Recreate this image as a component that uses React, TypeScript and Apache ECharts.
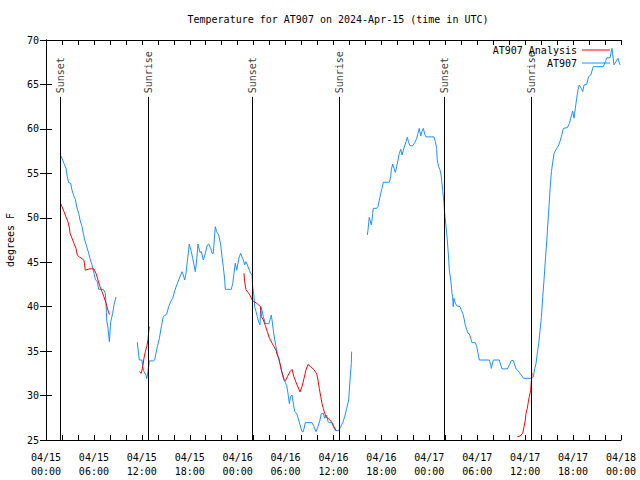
import React, { useEffect, useRef } from "react";
import * as echarts from "echarts";

// ---- data (hours since 04/15 00:00 UTC, degrees F) ----
const at907Hours = [
  1.84, 2.0, 2.25, 2.5, 2.67, 2.84, 3.09, 3.26, 3.51, 3.67, 3.84, 4.09, 4.26, 4.51, 4.67, 4.85, 5.1, 5.35, 5.51, 5.76,
  6.01, 6.17, 6.42, 6.6, 7.18, 7.43, 7.51, 7.6, 7.76, 7.93, 8.1, 8.35, 8.51, 8.77,
  10.0,
  11.43, 11.68, 12.02, 12.11, 12.27, 12.52, 12.61, 12.77, 12.94, 13.44, 13.61, 13.77, 13.94, 14.19, 14.44, 14.69, 15.11,
  15.36, 15.61, 15.87, 16.12, 16.37, 16.62, 16.87, 17.03, 17.19, 17.37, 17.53, 17.69, 17.87, 17.94, 18.19, 18.37, 18.53,
  18.7, 18.87, 19.03, 19.28, 19.45, 19.7, 19.95, 20.2, 20.37, 20.62, 20.79, 20.95, 21.12, 21.2, 21.37, 21.63, 21.88,
  22.04, 22.2, 22.38, 22.45, 23.2, 23.38, 23.54, 23.7, 23.88, 24.04, 24.2, 24.38, 24.54, 24.71, 24.88, 25.04, 25.21,
  25.46, 25.63, 25.8, 25.88, 26.05, 26.13, 26.3, 26.46, 26.63, 26.8, 26.88, 27.05, 27.21, 27.46, 27.89, 28.14, 28.21,
  28.3, 28.46, 28.64, 28.8, 28.96, 29.14, 29.3, 29.46, 29.64, 29.8, 29.97, 30.14, 30.3, 30.47, 30.64, 30.8, 30.97,
  31.14, 31.39, 31.64, 31.81, 32.06, 32.22, 32.47, 33.31, 33.56, 33.81, 34.06, 34.31, 34.47, 34.72, 34.9, 35.15, 35.31,
  35.48, 35.81, 35.98, 36.23, 36.65, 36.9, 37.15, 37.4, 37.65, 37.9, 38.07, 38.23, 38.27,
  39.0,
  40.23, 40.32, 40.41, 40.48, 40.66, 40.73, 40.82, 40.91, 40.98, 41.41, 41.57, 41.74, 41.91, 42.07, 42.24, 42.99, 43.16,
  43.24, 43.41, 43.58, 43.74, 43.91, 44.08, 44.24, 44.42, 44.58, 44.74, 44.92, 45.08, 45.24, 45.42, 45.58, 45.92, 46.17,
  46.42, 46.58, 46.74, 46.92, 47.08, 47.25, 47.42, 47.58, 48.59, 48.75, 48.92, 48.99, 49.17, 49.34, 49.5, 49.67, 49.84,
  49.92, 50.09, 50.25, 50.34, 50.43, 50.5, 50.68, 50.75, 50.84, 50.92, 50.99, 51.08, 51.25, 51.42, 51.84, 52.0, 52.18,
  52.34, 52.5, 52.68, 52.84, 53.01, 53.18, 53.34, 53.76, 53.93, 54.1, 54.26, 55.51, 55.69, 55.76, 56.01, 56.76, 56.94,
  57.1, 57.77, 58.02, 58.27, 58.52, 58.69, 58.85, 59.1, 59.35, 59.6, 59.77, 60.86, 61.02, 61.2, 61.36, 61.52, 61.7,
  61.86, 62.03, 62.2, 62.36, 62.53, 62.71, 62.87, 63.04, 63.12, 63.29, 63.46, 63.62, 63.95, 64.2, 64.36, 64.53, 64.78,
  65.28, 65.53, 65.7, 65.95, 66.12, 66.28, 66.45, 66.62, 66.78, 67.03, 67.21, 67.37, 67.7, 67.95, 68.21, 68.53, 69.78,
  70.04, 70.21, 70.63, 70.87, 71.12, 71.37, 71.62, 71.87,
];
const at907Temps = [
  57.0, 56.7, 56.1, 55.6, 54.6, 53.95, 53.9, 53.1, 52.4, 52.1, 51.25, 50.5, 49.75, 49.0, 48.25, 47.5, 46.75, 46.0, 45.4, 44.7,
  43.75, 43.1, 42.8, 41.95, 41.95, 41.5, 40.4, 38.5, 37.6, 36.06, 38.3, 39.25, 40.2, 41.1,
  null,
  36.0, 34.0, 34.0, 33.25, 32.7, 32.3, 31.9, 32.7, 33.9, 33.9, 34.0, 34.75, 35.5, 36.4, 37.75, 38.9, 39.15,
  40.0, 40.56, 40.94, 41.8, 42.44, 43.0, 43.56, 43.94, 43.56, 43.0, 43.75, 45.06, 46.4, 47.05, 46.2, 45.44, 44.7,
  43.94, 45.25, 47.05, 46.1, 46.2, 45.25, 46.0, 46.94, 47.05, 46.56, 46.0, 46.0, 48.06, 49.0, 48.44, 48.06, 46.94,
  45.6, 44.5, 43.0, 41.95, 41.95, 42.6, 43.75, 44.9, 44.1, 44.9, 45.6, 46.0, 45.6, 45.25, 44.7, 45.06, 44.7,
  44.1, 43.75, 43.56, 42.25, 41.1, 40.0, 39.44, 38.9, 38.3, 37.94, 40.0, 39.6, 38.9, 38.1, 38.06, 38.8, 39.06,
  38.5, 37.4, 36.25, 35.5, 34.75, 34.2, 33.6, 32.9, 32.3, 31.75, 31.45, 31.1, 30.25, 29.1, 29.9, 30.06, 29.1,
  28.2, 28.0, 27.25, 26.7, 25.94, 25.94, 26.95, 26.95, 26.5, 25.94, 26.5, 27.25, 28.0, 28.0, 27.44, 27.8, 27.06,
  26.95, 26.95, 26.5, 26.06, 26.06, 26.5, 26.95, 27.6, 28.56, 29.5, 31.75, 33.6, 34.94,
  null,
  48.06, 48.6, 49.45, 50.06, 49.4, 49.2, 49.75, 50.5, 51.06, 51.06, 51.25, 52.0, 52.75, 53.3, 54.0, 54.0, 54.6,
  55.4, 56.05, 55.56, 55.1, 55.75, 56.5, 57.25, 57.7, 57.06, 57.6, 58.1, 58.56, 59.06, 58.45, 58.1, 58.1, 58.45,
  58.94, 59.5, 60.06, 59.2, 59.7, 60.06, 59.4, 59.1, 59.1, 58.56, 57.8, 56.5, 55.75, 55.4, 54.6, 53.1, 51.6,
  50.5, 49.0, 47.5, 46.4, 45.25, 44.1, 43.0, 42.44, 41.5, 41.1, 40.0, 40.94, 40.4, 40.1, 40.0, 39.6, 39.25,
  38.7, 37.94, 37.4, 37.0, 36.94, 36.44, 35.95, 35.95, 35.5, 34.75, 34.0, 34.0, 33.44, 33.06, 34.0, 34.0, 33.44,
  33.0, 33.0, 33.44, 33.94, 33.94, 33.44, 33.0, 32.8, 32.5, 32.2, 31.94, 31.94, 32.1, 33.06, 33.6, 34.75, 35.9,
  37.3, 38.8, 41.1, 43.0, 45.25, 47.5, 49.75, 52.0, 53.3, 55.2, 56.3, 57.25, 57.8, 58.2, 58.6, 59.1, 60.06,
  60.14, 60.6, 61.2, 62.0, 61.2, 62.3, 63.44, 64.4, 64.94, 64.56, 64.2, 64.94, 65.0, 65.9, 66.06, 67.0, 67.0,
  67.56, 68.0, 68.0, 69.06, 67.2, 67.56, 67.94, 67.2,
];

const analysisHours = [
  1.84, 2.0, 2.25, 2.5, 2.75, 2.92, 3.01, 3.26, 3.51, 3.76, 3.92, 4.17, 4.51, 4.76, 4.92, 5.42, 6.01, 6.26, 6.51, 6.76,
  7.01, 7.26, 7.51, 7.76, 7.93,
  9.0,
  11.68, 11.93, 12.11, 12.27, 12.44, 12.61, 12.77, 12.86, 12.94,
  18.0,
  24.79, 24.88, 25.04, 25.3, 25.55, 25.8, 26.05, 26.38, 26.71, 26.88, 26.96, 27.21, 27.46, 27.71, 27.96, 28.3, 28.55,
  28.8, 28.96, 29.14, 29.3, 29.46, 29.64, 29.8, 29.97, 30.21, 30.55, 30.8, 31.05, 31.39, 31.81, 32.06, 32.31, 32.56,
  32.81, 33.15, 33.56, 33.9, 34.06, 34.22, 34.4, 34.56, 34.72, 34.9, 35.06, 35.31, 35.56, 35.81, 36.06, 36.31,
  45.0,
  59.02, 59.35, 59.69, 59.86, 60.02, 60.11, 60.27, 60.36, 60.52, 60.69, 60.77, 60.86,
];
const analysisTemps = [
  51.6, 51.25, 50.7, 50.1, 49.55, 48.9, 48.25, 47.7, 47.1, 46.55, 45.8, 45.6, 45.4, 45.2, 44.1, 44.25, 44.25, 43.75, 43.0, 42.25,
  41.7, 41.1, 40.4, 39.6, 39.1,
  null,
  32.7, 32.5, 33.25, 34.2, 34.94, 35.5, 36.25, 37.2, 37.75,
  null,
  43.75, 42.8, 41.9, 41.6, 41.3, 40.75, 40.56, 40.4, 40.1, 40.0, 38.9, 38.5, 37.9, 37.2, 36.5, 35.9, 35.5,
  35.1, 34.56, 34.2, 33.6, 32.9, 32.3, 31.8, 31.66, 32.1, 32.7, 32.94, 32.1, 31.3, 30.4, 31.0, 31.94, 32.9,
  33.5, 33.25, 32.9, 32.44, 31.75, 30.8, 29.9, 29.1, 28.56, 28.0, 27.6, 27.44, 27.25, 26.95, 26.5, 26.1,
  null,
  25.37, 25.45, 25.75, 26.5, 27.25, 28.0, 28.56, 29.1, 29.9, 30.6, 31.56, 32.5,
];

const sunEventHours = [1.79, 12.81, 25.83, 36.73, 49.88, 60.77];
const sunEventNames = ["Sunset", "Sunrise", "Sunset", "Sunrise", "Sunset", "Sunrise"];

const xTickLabels = [
  "04/15\n00:00", "04/15\n06:00", "04/15\n12:00", "04/15\n18:00",
  "04/16\n00:00", "04/16\n06:00", "04/16\n12:00", "04/16\n18:00",
  "04/17\n00:00", "04/17\n06:00", "04/17\n12:00", "04/17\n18:00",
  "04/18\n00:00",
];

const FONT = "DejaVu Sans Mono";

export default function App() {
  const ref = useRef<HTMLDivElement>(null);
  useEffect(() => {
    if (!ref.current) return;
    const chart = echarts.init(ref.current, null, { renderer: "svg" });
    const pair = (hs: number[], ts: (number | null)[]) => hs.map((h, i) => [h, ts[i]]);
    const lineTop = 63.6;
    const labelAnchor = 64.0;
    const xCommon = {
      type: "value" as const,
      min: 0,
      max: 72,
      interval: 2,
      splitLine: { show: false },
      axisLine: { show: true, lineStyle: { color: "#000", width: 1 } },
      axisTick: { show: true, inside: true, length: 5, lineStyle: { color: "#000" } },
    };
    const yCommon = {
      type: "value" as const,
      min: 25,
      max: 70,
      interval: 5,
      splitLine: { show: false },
      axisLine: { show: true, lineStyle: { color: "#000", width: 1 } },
      axisTick: { show: true, inside: true, length: 6, lineStyle: { color: "#000" } },
    };
    chart.setOption({
      animation: false,
      backgroundColor: "#fff",
      title: {
        text: "Temperature for AT907 on 2024-Apr-15 (time in UTC)",
        left: 333,
        top: 9,
        textAlign: "center",
        textStyle: { fontFamily: FONT, fontSize: 10, fontWeight: "normal", color: "#000" },
      },
      legend: {
        data: ["AT907 Analysis", "AT907"],
        orient: "vertical",
        align: "right",
        right: 30,
        top: 44,
        padding: 0,
        itemWidth: 28,
        itemHeight: 1,
        itemGap: 1,
        icon: "rect",
        textStyle: { fontFamily: FONT, fontSize: 10, color: "#000", lineHeight: 12 },
      },
      grid: { left: 46, right: 19, top: 40, bottom: 40, outerBoundsMode: "none", containLabel: false },
      xAxis: [
        {
          ...xCommon,
          position: "bottom",
          axisLabel: {
            fontFamily: FONT,
            fontSize: 10,
            color: "#000",
            lineHeight: 14,
            margin: 10,
            formatter: (v: number) => (v % 6 === 0 ? xTickLabels[v / 6] : ""),
          },
        },
        { ...xCommon, position: "top", axisLabel: { show: false } },
      ],
      yAxis: [
        {
          ...yCommon,
          position: "left",
          name: "degrees F",
          nameLocation: "middle",
          nameGap: 31,
          nameTextStyle: { fontFamily: FONT, fontSize: 10, color: "#000" },
          axisLabel: { fontFamily: FONT, fontSize: 10, color: "#000", margin: 7 },
        },
        { ...yCommon, position: "right", axisLabel: { show: false } },
      ],
      series: [
        {
          name: "sun",
          type: "scatter",
          symbolSize: 0.1,
          silent: true,
          itemStyle: { color: "transparent" },
          data: sunEventHours.map((h, i) => [h, labelAnchor, sunEventNames[i]]),
          label: {
            show: true,
            position: [0, 0],
            rotate: 90,
            align: "left",
            verticalAlign: "middle",
            fontFamily: FONT,
            fontSize: 10,
            color: "#000",
            formatter: (p: any) => p.value[2],
          },
          markLine: {
            silent: true,
            symbol: "none",
            label: { show: false },
            lineStyle: { color: "#000", width: 1, type: "solid" },
            data: sunEventHours.map((h) => [{ coord: [h, 25] }, { coord: [h, lineTop] }]),
          },
          z: 1,
        },
        {
          name: "AT907 Analysis",
          type: "line",
          color: "#ff0000",
          showSymbol: false,
          connectNulls: false,
          lineStyle: { width: 1, color: "#ff0000" },
          data: pair(analysisHours, analysisTemps),
          z: 3,
        },
        {
          name: "AT907",
          type: "line",
          color: "#1e90ff",
          showSymbol: false,
          connectNulls: false,
          lineStyle: { width: 1, color: "#1e90ff" },
          data: pair(at907Hours, at907Temps),
          z: 2,
        },
      ],
    });
    return () => chart.dispose();
  }, []);
  return <div ref={ref} style={{ position: "fixed", left: 0, top: 0, width: 640, height: 480 }} />;
}
